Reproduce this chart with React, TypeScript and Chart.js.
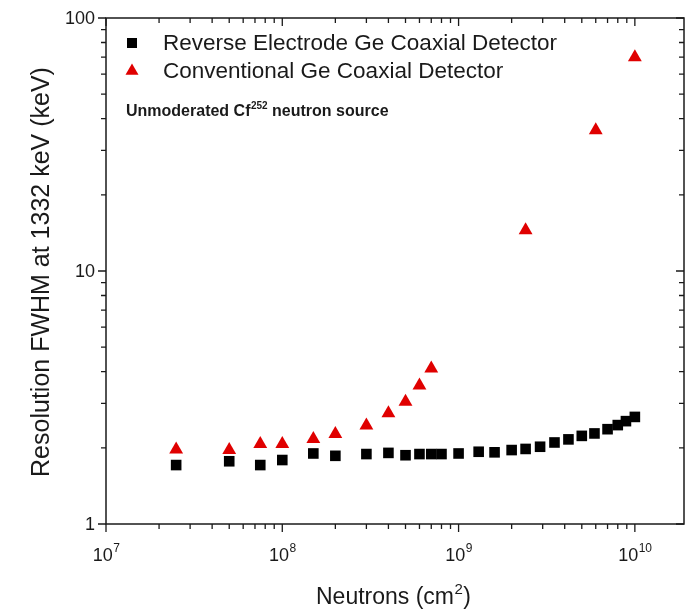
import React, { useEffect, useRef } from 'react';
import { Chart, registerables } from 'chart.js';

Chart.register(...registerables);

// ---- data ----
const reverseX = [2.5e7, 5e7, 7.5e7, 1e8, 1.5e8, 2e8, 3e8, 4e8, 5e8, 6e8, 7e8, 8e8, 1e9, 1.3e9, 1.6e9, 2e9, 2.4e9, 2.9e9, 3.5e9, 4.2e9, 5e9, 5.9e9, 7e9, 8e9, 8.9e9, 1e10];
const reverseY = [1.71, 1.77, 1.71, 1.79, 1.9, 1.86, 1.89, 1.91, 1.87, 1.89, 1.89, 1.89, 1.9, 1.93, 1.92, 1.96, 1.98, 2.02, 2.1, 2.16, 2.23, 2.28, 2.37, 2.46, 2.55, 2.65];
const conventionalX = [2.5e7, 5e7, 7.5e7, 1e8, 1.5e8, 2e8, 3e8, 4e8, 5e8, 6e8, 7e8, 2.4e9, 6e9, 1e10];
const conventionalY = [1.97, 1.96, 2.07, 2.07, 2.17, 2.27, 2.45, 2.74, 3.04, 3.53, 4.12, 14.5, 36, 70];

const seriesNames = ['Reverse Electrode Ge Coaxial Detector', 'Conventional Ge Coaxial Detector'];
const xExponents = [7, 8, 9, 10];
const yTickValues = [1, 10, 100];
const yTickLabels = ['1', '10', '100'];
const noteParts = ['Unmoderated Cf', '252', ' neutron source'];
const xTitleParts = ['Neutrons (cm', '2', ')'];
const yTitle = 'Resolution FWHM at 1332 keV (keV)';

const X_MIN = 1e7;
const X_MAX = 1.9e10;
const Y_MIN = 1;
const Y_MAX = 100;

const RED = '#e00000';
const BLACK = '#000000';
const FONT = '"Liberation Sans", Arial, sans-serif';
const INK = '#1a1a1a';

const decorPlugin = {
  id: 'decor',
  afterDraw(chart: any) {
    const ctx = chart.ctx as CanvasRenderingContext2D;
    const { left, right, top, bottom } = chart.chartArea;
    const xs = chart.scales.x;
    const ys = chart.scales.y;
    ctx.save();
    ctx.strokeStyle = INK;
    ctx.fillStyle = INK;

    // frame
    ctx.lineWidth = 1.5;
    ctx.strokeRect(left, top, right - left, bottom - top);

    // x ticks (bottom outward, top inward)
    ctx.lineWidth = 1.3;
    for (let d = 7; d <= 10; d++) {
      for (let m = 1; m <= 9; m++) {
        const v = m * Math.pow(10, d);
        if (v < X_MIN * 0.999 || v > X_MAX * 1.001) continue;
        const px = xs.getPixelForValue(v);
        const len = m === 1 ? 8 : 5;
        ctx.beginPath();
        ctx.moveTo(px, bottom);
        ctx.lineTo(px, bottom + len);
        ctx.moveTo(px, top);
        ctx.lineTo(px, top + len);
        ctx.stroke();
      }
    }
    // y ticks (left outward, right inward)
    for (let d = 0; d <= 2; d++) {
      for (let m = 1; m <= 9; m++) {
        const v = m * Math.pow(10, d);
        if (v > Y_MAX * 1.001) continue;
        const py = ys.getPixelForValue(v);
        const len = m === 1 ? 8 : 5;
        ctx.beginPath();
        ctx.moveTo(left - len, py);
        ctx.lineTo(left, py);
        ctx.moveTo(right - len, py);
        ctx.lineTo(right, py);
        ctx.stroke();
      }
    }

    // y tick labels
    ctx.font = `18px ${FONT}`;
    ctx.textAlign = 'right';
    ctx.textBaseline = 'middle';
    yTickValues.forEach((v, i) => {
      ctx.fillText(yTickLabels[i], left - 11, ys.getPixelForValue(v) + 1);
    });

    // x tick labels 10^n
    ctx.textAlign = 'left';
    ctx.textBaseline = 'alphabetic';
    xExponents.forEach((e) => {
      const px = xs.getPixelForValue(Math.pow(10, e));
      ctx.font = `18px ${FONT}`;
      const wb = ctx.measureText('10').width;
      ctx.font = `12px ${FONT}`;
      const ws = ctx.measureText(String(e)).width;
      const x0 = px - (wb + ws) / 2;
      ctx.font = `18px ${FONT}`;
      ctx.fillText('10', x0, bottom + 37);
      ctx.font = `12px ${FONT}`;
      ctx.fillText(String(e), x0 + wb + 0.5, bottom + 28);
    });

    // x title
    {
      ctx.font = `23px ${FONT}`;
      const w1 = ctx.measureText(xTitleParts[0]).width;
      const w3 = ctx.measureText(xTitleParts[2]).width;
      ctx.font = `15px ${FONT}`;
      const w2 = ctx.measureText(xTitleParts[1]).width;
      const cx = (left + right) / 2 - 2;
      const x0 = cx - (w1 + w2 + w3) / 2;
      const base = 604;
      ctx.font = `23px ${FONT}`;
      ctx.fillText(xTitleParts[0], x0, base);
      ctx.font = `15px ${FONT}`;
      ctx.fillText(xTitleParts[1], x0 + w1 + 0.5, base - 10);
      ctx.font = `23px ${FONT}`;
      ctx.fillText(xTitleParts[2], x0 + w1 + w2 + 1, base);
    }

    // y title
    ctx.save();
    ctx.translate(42, (top + bottom) / 2 + 1);
    ctx.rotate(-Math.PI / 2);
    ctx.font = `25px ${FONT}`;
    ctx.textAlign = 'center';
    ctx.textBaseline = 'middle';
    ctx.fillText(yTitle, 0, 0);
    ctx.restore();

    // legend
    const ds = chart.data.datasets;
    const rows = [43, 71];
    ctx.textAlign = 'left';
    ctx.textBaseline = 'middle';
    ctx.font = `22.5px ${FONT}`;
    rows.forEach((ry, i) => {
      const d = ds[i];
      const mx = left + 26;
      ctx.fillStyle = d.backgroundColor;
      if (d.pointStyle === 'rect') {
        ctx.fillRect(mx - 5, ry - 5, 10, 10);
      } else {
        const r = 7.5;
        ctx.beginPath();
        ctx.moveTo(mx, ry - r);
        ctx.lineTo(mx + r * 0.866, ry + r / 2);
        ctx.lineTo(mx - r * 0.866, ry + r / 2);
        ctx.closePath();
        ctx.fill();
      }
      ctx.fillStyle = INK;
      ctx.fillText(seriesNames[i], left + 57, ry + 1);
    });

    // annotation with superscript
    {
      const base = 116;
      let x = left + 20;
      ctx.textBaseline = 'alphabetic';
      ctx.font = `bold 16px ${FONT}`;
      ctx.fillText(noteParts[0], x, base);
      x += ctx.measureText(noteParts[0]).width + 0.5;
      ctx.font = `bold 10px ${FONT}`;
      ctx.fillText(noteParts[1], x, base - 7);
      x += ctx.measureText(noteParts[1]).width;
      ctx.font = `bold 16px ${FONT}`;
      ctx.fillText(noteParts[2], x, base);
    }

    ctx.restore();
  },
};

export default function App() {
  const canvasRef = useRef<HTMLCanvasElement | null>(null);

  useEffect(() => {
    document.body.style.margin = '0';
    const canvas = canvasRef.current;
    if (!canvas) return;
    const chart = new Chart(canvas, {
      type: 'scatter',
      data: {
        datasets: [
          {
            label: seriesNames[0],
            data: reverseX.map((x, i) => ({ x, y: reverseY[i] })),
            backgroundColor: BLACK,
            borderColor: BLACK,
            borderWidth: 0,
            pointStyle: 'rect',
            pointRadius: 7.5,
          },
          {
            label: seriesNames[1],
            data: conventionalX.map((x, i) => ({ x, y: conventionalY[i] })),
            backgroundColor: RED,
            borderColor: RED,
            borderWidth: 0,
            pointStyle: 'triangle',
            pointRadius: 8,
          },
        ],
      },
      options: {
        animation: false,
        responsive: false,
        maintainAspectRatio: false,
        layout: { padding: { left: 106, right: 3, top: 18, bottom: 86 } },
        plugins: {
          legend: { display: false },
          tooltip: { enabled: false },
        },
        scales: {
          x: { type: 'logarithmic', min: X_MIN, max: X_MAX, display: false },
          y: { type: 'logarithmic', min: Y_MIN, max: Y_MAX, display: false },
        },
      },
      plugins: [decorPlugin],
    });
    return () => chart.destroy();
  }, []);

  return (
    <div style={{ width: 692, height: 610, background: '#fff' }}>
      <canvas ref={canvasRef} width={692} height={610} />
    </div>
  );
}
